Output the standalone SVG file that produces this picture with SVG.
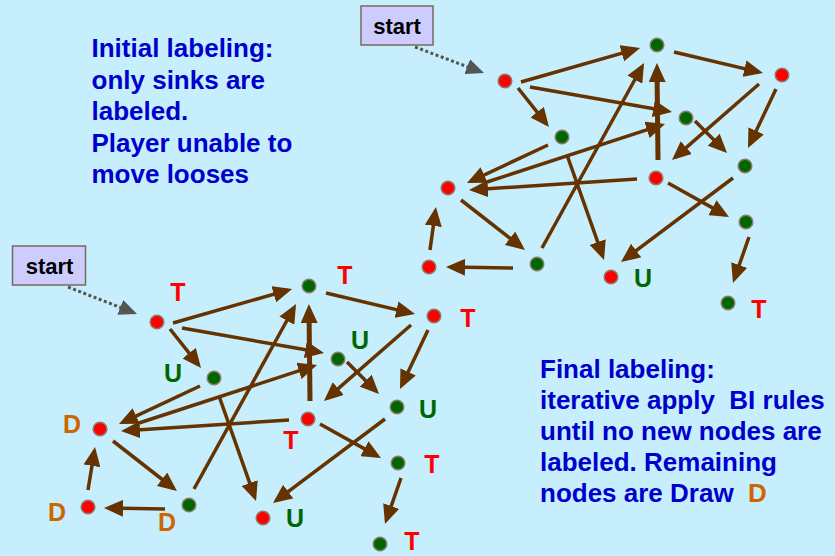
<svg xmlns="http://www.w3.org/2000/svg" width="835" height="556" viewBox="0 0 835 556">
  <defs>
    <style>
      .bg { fill: #C6EEFC; }
      .edge { stroke: #663300; stroke-width: 3.5; fill: none; marker-end: url(#arrow); }
      .edge-thick { stroke: #663300; stroke-width: 5; fill: none; marker-end: url(#arrow-thick); }
      .start-link { stroke: #555555; stroke-width: 3; stroke-dasharray: 3 2.5; fill: none; marker-end: url(#arrow-grey); }
      .node-red { fill: #FF0000; stroke: #8C7B6A; stroke-width: 1.5; }
      .node-green { fill: #006600; stroke: #8C7B6A; stroke-width: 1.5; }
      .lbl { font-family: "Liberation Sans", Arial, sans-serif; font-weight: bold; font-size: 25px; text-anchor: middle; }
      .t { fill: #FF0000; }
      .u { fill: #006600; }
      .d { fill: #CC6600; }
      .note { font-family: "Liberation Sans", Arial, sans-serif; font-weight: bold; font-size: 26px; fill: #0000CC; }
      .start-box { fill: #CCCCFF; stroke: #7A6A5A; stroke-width: 1.5; }
      .start-text { font-family: "Liberation Sans", Arial, sans-serif; font-weight: bold; font-size: 22px; fill: #000000; text-anchor: middle; }
    </style>
    <!-- arrowheads: tip reaches 4-6px beyond the path end so the stroke stays hidden -->
    <marker id="arrow" viewBox="0 0 19 17" refX="15" refY="8.5" markerWidth="19" markerHeight="17" markerUnits="userSpaceOnUse" orient="auto">
      <path d="M0,0 L19,8.5 L0,17 z" fill="#663300"/>
    </marker>
    <marker id="arrow-thick" viewBox="0 0 19 17" refX="13" refY="8.5" markerWidth="19" markerHeight="17" markerUnits="userSpaceOnUse" orient="auto">
      <path d="M0,0 L19,8.5 L0,17 z" fill="#663300"/>
    </marker>
    <marker id="arrow-grey" viewBox="0 0 18 16" refX="14" refY="8" markerWidth="18" markerHeight="16" markerUnits="userSpaceOnUse" orient="auto">
      <path d="M0,0 L18,8 L0,16 z" fill="#555555"/>
    </marker>
  </defs>

  <rect class="bg" x="0" y="0" width="835" height="556"/>

  <!-- explanatory notes -->
  <text class="note" x="91.5" y="57">Initial labeling:</text>
  <text class="note" x="91.5" y="88.5">only sinks are</text>
  <text class="note" x="91.5" y="120">labeled.</text>
  <text class="note" x="91.5" y="151.5">Player unable to</text>
  <text class="note" x="91.5" y="183">move looses</text>

  <text class="note" x="540" y="378">Final labeling:</text>
  <text class="note" x="540" y="409" xml:space="preserve">iterative apply  BI rules</text>
  <text class="note" x="540" y="440">until no new nodes are</text>
  <text class="note" x="540" y="471">labeled. Remaining</text>
  <text class="note" x="540" y="502" xml:space="preserve">nodes are Draw  <tspan class="d">D</tspan></text>

  <!-- start markers -->
  <g id="start-initial">
    <rect class="start-box" x="361" y="6" width="72" height="39"/>
    <text class="start-text" x="397" y="34">start</text>
  </g>
  <g id="start-final">
    <rect class="start-box" x="12.5" y="246" width="73" height="39"/>
    <text class="start-text" x="49.5" y="274">start</text>
  </g>

  <!-- connectors: initial labeling graph -->
  <g id="edges-initial">
    <path class="start-link" d="M415,47 L480.3,71.6"/>
    <path class="edge" d="M521,82 L636.2,49.1"/>
    <path class="edge" d="M530,87 L668.1,111.3"/>
    <path class="edge" d="M518,88 L546.5,123.9"/>
    <path class="edge" d="M674,52 L759.1,72.1"/>
    <path class="edge" d="M776,89 L749.7,144.4"/>
    <path class="edge" d="M759,84 L675,157.4"/>
    <path class="edge" d="M695,121 L724.2,150.2"/>
    <path class="edge-thick" d="M658,160 L657,69"/>
    <path class="edge" d="M487,182 L661.2,125.2"/>
    <path class="edge" d="M548,145 L470.6,181.3"/>
    <path class="edge" d="M637,179 L473,189.7"/>
    <path class="edge" d="M668,183 L725.5,215.1"/>
    <path class="edge" d="M733,178 L624.2,259.6"/>
    <path class="edge" d="M749,237 L734.3,279.2"/>
    <path class="edge" d="M461,200 L521.8,247.5"/>
    <path class="edge" d="M513,268 L450,267.1"/>
    <path class="edge" d="M430,250 L435.4,211"/>
    <path class="edge" d="M542,248 L642.1,66.5"/>
    <path class="edge" d="M567,155 L602.7,256.2"/>
  </g>

  <!-- nodes: initial labeling graph -->
  <g id="i-a"><circle class="node-red" cx="505" cy="81" r="6.8"/></g>
  <g id="i-b"><circle class="node-green" cx="657" cy="45" r="6.8"/></g>
  <g id="i-c"><circle class="node-red" cx="782" cy="75" r="6.8"/></g>
  <g id="i-d"><circle class="node-green" cx="562" cy="137" r="6.8"/></g>
  <g id="i-e"><circle class="node-green" cx="686" cy="118" r="6.8"/></g>
  <g id="i-f"><circle class="node-green" cx="745" cy="166" r="6.8"/></g>
  <g id="i-g"><circle class="node-red" cx="656" cy="178" r="6.8"/></g>
  <g id="i-h"><circle class="node-red" cx="448" cy="188" r="6.8"/></g>
  <g id="i-i"><circle class="node-green" cx="746" cy="222" r="6.8"/></g>
  <g id="i-j"><circle class="node-red" cx="429" cy="267" r="6.8"/></g>
  <g id="i-k"><circle class="node-green" cx="537" cy="264" r="6.8"/></g>
  <g id="i-l"><circle class="node-red" cx="611" cy="277" r="6.8"/><text class="lbl u" x="643" y="287">U</text></g>
  <g id="i-m"><circle class="node-green" cx="728" cy="303" r="6.8"/><text class="lbl t" x="759" y="318">T</text></g>

  <!-- connectors: final labeling graph (same layout, shifted) -->
  <g id="edges-final" transform="translate(-348,241)">
    <path class="start-link" d="M416,46 L481.3,71.5"/>
    <path class="edge" d="M521,82 L636.2,49.1"/>
    <path class="edge" d="M530,87 L668.1,111.3"/>
    <path class="edge" d="M518,88 L546.5,123.9"/>
    <path class="edge" d="M674,52 L759.1,72.1"/>
    <path class="edge" d="M776,89 L749.7,144.4"/>
    <path class="edge" d="M759,84 L675,157.4"/>
    <path class="edge" d="M695,121 L724.2,150.2"/>
    <path class="edge-thick" d="M658,160 L657,69"/>
    <path class="edge" d="M487,182 L661.2,125.2"/>
    <path class="edge" d="M548,145 L470.6,181.3"/>
    <path class="edge" d="M637,179 L473,189.7"/>
    <path class="edge" d="M668,183 L725.5,215.1"/>
    <path class="edge" d="M733,178 L624.2,259.6"/>
    <path class="edge" d="M749,237 L734.3,279.2"/>
    <path class="edge" d="M461,200 L521.8,247.5"/>
    <path class="edge" d="M513,268 L456,267.1"/>
    <path class="edge" d="M436,249 L442.4,210"/>
    <path class="edge" d="M542,248 L642.1,66.5"/>
    <path class="edge" d="M567,155 L602.7,256.2"/>
  </g>

  <!-- nodes: final labeling graph -->
  <g id="f-a"><circle class="node-red" cx="157" cy="322" r="6.8"/><text class="lbl t" x="178" y="301">T</text></g>
  <g id="f-b"><circle class="node-green" cx="309" cy="286" r="6.8"/><text class="lbl t" x="345" y="284">T</text></g>
  <g id="f-c"><circle class="node-red" cx="434" cy="316" r="6.8"/><text class="lbl t" x="468" y="327">T</text></g>
  <g id="f-d"><circle class="node-green" cx="214" cy="378" r="6.8"/><text class="lbl u" x="173" y="382">U</text></g>
  <g id="f-e"><circle class="node-green" cx="338" cy="359" r="6.8"/><text class="lbl u" x="360" y="349">U</text></g>
  <g id="f-f"><circle class="node-green" cx="397" cy="407" r="6.8"/><text class="lbl u" x="428" y="418">U</text></g>
  <g id="f-g"><circle class="node-red" cx="308" cy="419" r="6.8"/><text class="lbl t" x="291" y="449">T</text></g>
  <g id="f-h"><circle class="node-red" cx="100" cy="429" r="6.8"/><text class="lbl d" x="72" y="433">D</text></g>
  <g id="f-i"><circle class="node-green" cx="398" cy="463" r="6.8"/><text class="lbl t" x="432" y="473">T</text></g>
  <g id="f-j"><circle class="node-red" cx="88" cy="507" r="6.8"/><text class="lbl d" x="57" y="521">D</text></g>
  <g id="f-k"><circle class="node-green" cx="189" cy="505" r="6.8"/><text class="lbl d" x="167" y="531">D</text></g>
  <g id="f-l"><circle class="node-red" cx="263" cy="518" r="6.8"/><text class="lbl u" x="295" y="527">U</text></g>
  <g id="f-m"><circle class="node-green" cx="380" cy="544" r="6.8"/><text class="lbl t" x="412" y="550">T</text></g>
</svg>
